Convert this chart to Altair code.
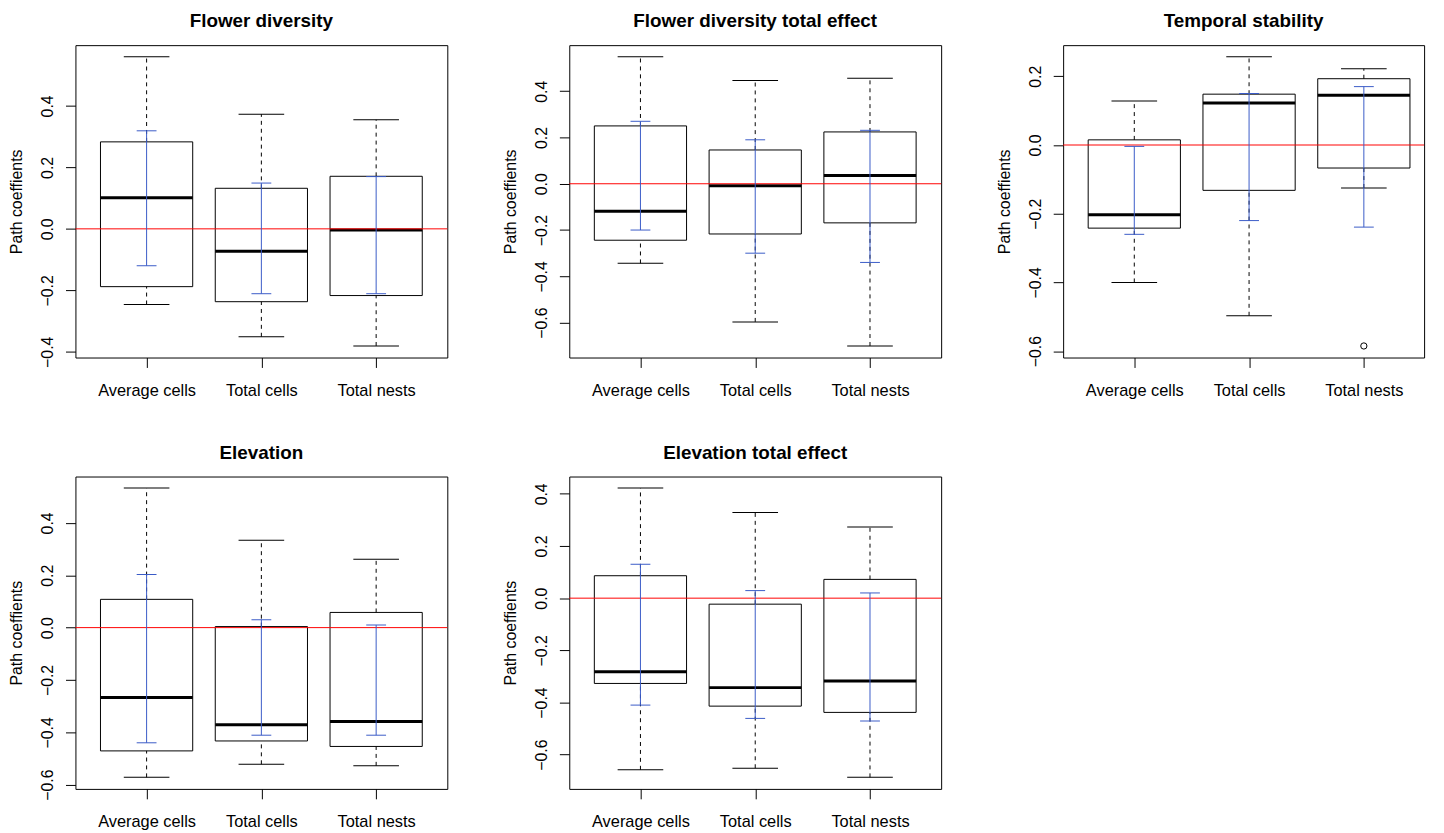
import altair as alt
import pandas as pd

categories = ["Average cells", "Total cells", "Total nests"]
panel_titles = ["Flower diversity", "Flower diversity total effect", "Temporal stability",
                "Elevation", "Elevation total effect"]

# Flower diversity
fd_wlo = [-0.246, -0.351, -0.381]
fd_q1 = [-0.188, -0.237, -0.217]
fd_med = [0.101, -0.073, -0.004]
fd_q3 = [0.283, 0.132, 0.171]
fd_whi = [0.560, 0.373, 0.355]
fd_cilo = [-0.120, -0.211, -0.211]
fd_cihi = [0.319, 0.149, 0.170]
fd_ticks = [-0.4, -0.2, 0.0, 0.2, 0.4]

# Flower diversity total effect
fdt_wlo = [-0.344, -0.597, -0.701]
fdt_q1 = [-0.244, -0.217, -0.169]
fdt_med = [-0.119, -0.009, 0.036]
fdt_q3 = [0.250, 0.146, 0.224]
fdt_whi = [0.549, 0.446, 0.456]
fdt_cilo = [-0.200, -0.300, -0.340]
fdt_cihi = [0.270, 0.190, 0.231]
fdt_ticks = [-0.6, -0.4, -0.2, 0.0, 0.2, 0.4]

# Temporal stability
ts_wlo = [-0.400, -0.497, -0.125]
ts_q1 = [-0.242, -0.132, -0.067]
ts_med = [-0.203, 0.122, 0.145]
ts_q3 = [0.015, 0.148, 0.193]
ts_whi = [0.128, 0.257, 0.222]
ts_cilo = [-0.260, -0.220, -0.239]
ts_cihi = [-0.004, 0.150, 0.170]
ts_ticks = [-0.6, -0.4, -0.2, 0.0, 0.2]
ts_out_cat = ["Total nests"]
ts_out_val = [-0.585]

# Elevation
el_wlo = [-0.572, -0.522, -0.528]
el_q1 = [-0.471, -0.433, -0.454]
el_med = [-0.267, -0.371, -0.359]
el_q3 = [0.108, 0.004, 0.058]
el_whi = [0.533, 0.334, 0.261]
el_cilo = [-0.440, -0.411, -0.411]
el_cihi = [0.203, 0.030, 0.010]
el_ticks = [-0.6, -0.4, -0.2, 0.0, 0.2, 0.4]

# Elevation total effect
elt_wlo = [-0.658, -0.652, -0.687]
elt_q1 = [-0.327, -0.414, -0.438]
elt_med = [-0.282, -0.343, -0.318]
elt_q3 = [0.086, -0.023, 0.072]
elt_whi = [0.422, 0.328, 0.273]
elt_cilo = [-0.410, -0.461, -0.471]
elt_cihi = [0.130, 0.029, 0.020]
elt_ticks = [-0.6, -0.4, -0.2, 0.0, 0.2, 0.4]

FONT = "Liberation Sans"
BLUE = "#3A5BC7"
W, H = 375, 315
BOXW = 93
STAPLE = 46
CAP = 20


def panel(title, wlo, q1, med, q3, whi, cilo, cihi, ticks, out_cat=None, out_val=None, width=W):
    df = pd.DataFrame({"cat": categories, "wlo": wlo, "q1": q1, "med": med, "q3": q3,
                       "whi": whi, "cilo": cilo, "cihi": cihi})
    lo = min(wlo + (out_val or []))
    hi = max(whi)
    ext = 0.04 * (hi - lo)
    yscale = alt.Scale(domain=[lo - ext, hi + ext], nice=False, zero=False)
    yaxis = alt.Axis(values=ticks, format=".1f", title="Path coeffients",
                     labelAngle=270, labelAlign="center", labelBaseline="alphabetic",
                     labelPadding=13, tickSize=10, grid=False, domain=False,
                     titleAngle=270, titleAlign="center", titleBaseline="alphabetic",
                     titleX=-54, titleY=H / 2)
    xenc = alt.X("cat:N", sort=categories,
                 scale=alt.Scale(type="point", padding=0.62, range=[0, W]),
                 axis=alt.Axis(title=None, labelAngle=0, tickSize=10, labelPadding=15,
                               labelFontSize=16.5, grid=False, domain=False))

    def y(f):
        return alt.Y(f"{f}:Q", scale=yscale, axis=yaxis)

    base = alt.Chart(df)
    box = base.mark_bar(size=BOXW, fill="white", stroke="black", strokeWidth=1, opacity=1).encode(
        x=xenc, y=y("q1"), y2="q3")
    wh_up = base.mark_rule(color="black", strokeWidth=1, strokeDash=[4, 4]).encode(
        x=xenc, y=y("q3"), y2="whi")
    wh_dn = base.mark_rule(color="black", strokeWidth=1, strokeDash=[4, 4]).encode(
        x=xenc, y=y("wlo"), y2="q1")
    st_up = base.mark_tick(size=STAPLE, thickness=1, color="black", opacity=1).encode(x=xenc, y=y("whi"))
    st_dn = base.mark_tick(size=STAPLE, thickness=1, color="black", opacity=1).encode(x=xenc, y=y("wlo"))
    medl = base.mark_tick(size=BOXW, thickness=3, color="black", opacity=1).encode(x=xenc, y=y("med"))
    zero = alt.Chart(pd.DataFrame({"zero": [0.0]})).mark_rule(color="#FF0000", strokeWidth=1).encode(
        y=y("zero"))
    ci = base.mark_rule(color=BLUE, strokeWidth=1).encode(x=xenc, y=y("cilo"), y2="cihi")
    ci_lo = base.mark_tick(size=CAP, thickness=1, color=BLUE, opacity=1).encode(x=xenc, y=y("cilo"))
    ci_hi = base.mark_tick(size=CAP, thickness=1, color=BLUE, opacity=1).encode(x=xenc, y=y("cihi"))
    layers = [box, wh_up, wh_dn, st_up, st_dn, medl, zero, ci, ci_lo, ci_hi]
    if out_cat:
        odf = pd.DataFrame({"cat": out_cat, "val": out_val})
        layers.append(alt.Chart(odf).mark_point(shape="circle", filled=False, color="black",
                                                 size=40, strokeWidth=1, opacity=1).encode(
            x=xenc, y=y("val")))
    return alt.layer(*layers).properties(
        width=width, height=H,
        title=alt.TitleParams(title, anchor="middle", frame="group", baseline="alphabetic", offset=-1))


p1 = panel(panel_titles[0], fd_wlo, fd_q1, fd_med, fd_q3, fd_whi, fd_cilo, fd_cihi, fd_ticks)
p2 = panel(panel_titles[1], fdt_wlo, fdt_q1, fdt_med, fdt_q3, fdt_whi, fdt_cilo, fdt_cihi, fdt_ticks)
p3 = panel(panel_titles[2], ts_wlo, ts_q1, ts_med, ts_q3, ts_whi, ts_cilo, ts_cihi, ts_ticks,
           ts_out_cat, ts_out_val, width=364)
p4 = panel(panel_titles[3], el_wlo, el_q1, el_med, el_q3, el_whi, el_cilo, el_cihi, el_ticks)
p5 = panel(panel_titles[4], elt_wlo, elt_q1, elt_med, elt_q3, elt_whi, elt_cilo, elt_cihi, elt_ticks)

chart = alt.concat(p1, p2, p3, p4, p5, columns=3, spacing={"row": 120, "column": 123},
                   bounds="flush").properties(
    padding={"left": 0, "top": 0, "right": 0, "bottom": 0},
    background="white",
).configure_view(
    stroke="black", strokeWidth=1
).configure_axis(
    labelFont=FONT, titleFont=FONT, labelFontSize=16, titleFontSize=16,
    titleFontWeight="normal", labelColor="black", titleColor="black", tickColor="black",
    tickWidth=1
).configure_title(
    font=FONT, fontSize=19, fontWeight="bold", color="black"
)

chart.save("out.html", embed_options={"renderer": "svg", "actions": False})
